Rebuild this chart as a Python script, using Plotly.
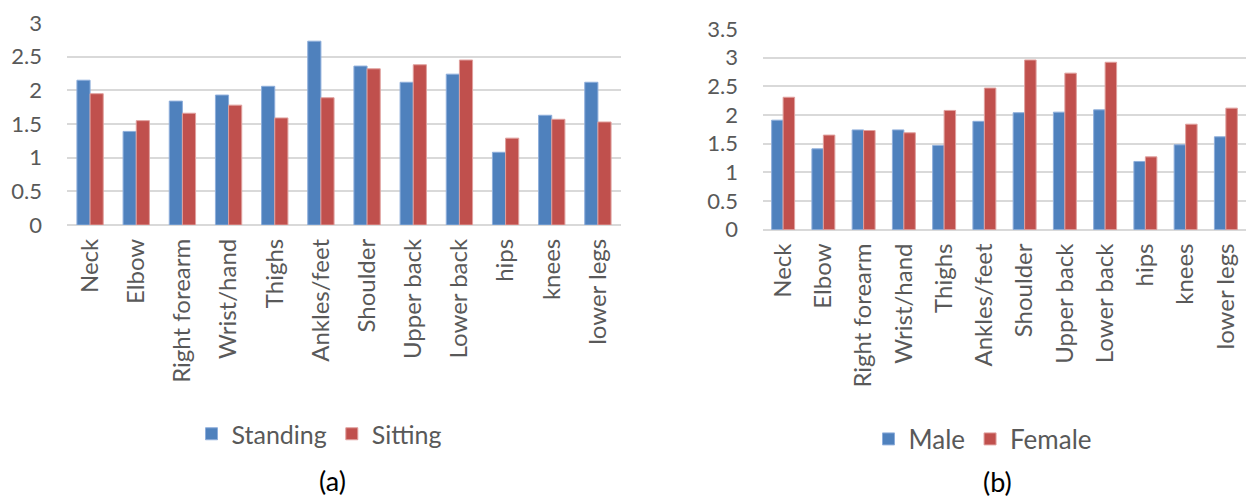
import plotly.graph_objects as go

categories = ["Neck", "Elbow", "Right forearm", "Wrist/hand", "Thighs", "Ankles/feet",
              "Shoulder", "Upper back", "Lower back", "hips", "knees", "lower legs"]
standing = [2.15, 1.39, 1.84, 1.93, 2.06, 2.73, 2.36, 2.12, 2.24, 1.08, 1.63, 2.12]
sitting = [1.95, 1.55, 1.66, 1.78, 1.59, 1.89, 2.32, 2.38, 2.45, 1.29, 1.57, 1.53]
male = [1.91, 1.41, 1.74, 1.74, 1.47, 1.89, 2.04, 2.05, 2.09, 1.19, 1.48, 1.62]
female = [2.31, 1.65, 1.73, 1.69, 2.08, 2.47, 2.96, 2.73, 2.92, 1.27, 1.84, 2.12]
yticks_a = [0, 0.5, 1, 1.5, 2, 2.5, 3]
yticks_b = [0, 0.5, 1, 1.5, 2, 2.5, 3, 3.5]

BLUE = "#4F81BD"
RED = "#C0504D"
GRID = "#d9d9d9"
TXT = "#595959"
FONT = "Lato"

fig = go.Figure()
fig.add_trace(go.Bar(x=categories, y=standing, name="Standing", marker_color=BLUE,
                     marker_line=dict(color="#8eaedb", width=1), xaxis="x", yaxis="y", legend="legend"))
fig.add_trace(go.Bar(x=categories, y=sitting, name="Sitting", marker_color=RED,
                     marker_line=dict(color="#e0a09e", width=1), xaxis="x", yaxis="y", legend="legend"))
fig.add_trace(go.Bar(x=categories, y=male, name="Male", marker_color=BLUE,
                     marker_line=dict(color="#8eaedb", width=1), xaxis="x2", yaxis="y2", legend="legend2"))
fig.add_trace(go.Bar(x=categories, y=female, name="Female", marker_color=RED,
                     marker_line=dict(color="#e0a09e", width=1), xaxis="x2", yaxis="y2", legend="legend2"))

W, H = 1246, 497
xa = dict(type="category", tickangle=-90, showgrid=False, showline=False, zeroline=False,
          ticks="", tickfont=dict(family=FONT, size=24, color=TXT), ticklabelstandoff=8,
          automargin=False)
ya = dict(showgrid=True, gridcolor=GRID, gridwidth=2, zeroline=True, zerolinecolor=GRID,
          zerolinewidth=2, showline=False, ticks="", tickfont=dict(family=FONT, size=22, color=TXT),
          ticklabelstandoff=24, automargin=False)

fig.update_layout(
    width=W, height=H,
    margin=dict(l=0, r=0, t=0, b=0, autoexpand=False),
    paper_bgcolor="white", plot_bgcolor="white",
    barmode="group", bargap=0.43, bargroupgap=0,
    xaxis=dict(xa, domain=[67 / W, 621 / W], anchor="y"),
    yaxis=dict(ya, domain=[1 - 225 / H, 1 - 23 / H], range=[0, 3], tickvals=yticks_a,
               ticktext=[f"{v:g}" for v in yticks_a], anchor="x"),
    xaxis2=dict(xa, domain=[763 / W, 1.0], anchor="y2"),
    yaxis2=dict(ya, domain=[1 - 229.7 / H, 1 - 29 / H], range=[0, 3.5], tickvals=yticks_b,
                ticktext=[f"{v:g}" for v in yticks_b], anchor="x2"),
    legend=dict(orientation="h", x=319 / W, y=1 - 434 / H, xanchor="center", yanchor="middle",
                font=dict(family=FONT, size=25, color=TXT), bgcolor="rgba(0,0,0,0)"),
    legend2=dict(orientation="h", x=983 / W, y=1 - 439 / H, xanchor="center", yanchor="middle",
                 font=dict(family=FONT, size=26, color=TXT), bgcolor="rgba(0,0,0,0)"),
    annotations=[
        dict(text="(a)", x=332 / W, y=1 - 480 / H, xref="paper", yref="paper", showarrow=False,
             font=dict(family=FONT, size=27, color="black"), xanchor="center", yanchor="middle"),
        dict(text="(b)", x=997 / W, y=1 - 481 / H, xref="paper", yref="paper", showarrow=False,
             font=dict(family=FONT, size=27, color="black"), xanchor="center", yanchor="middle"),
    ],
    showlegend=True,
)

fig.write_html("out.html")
